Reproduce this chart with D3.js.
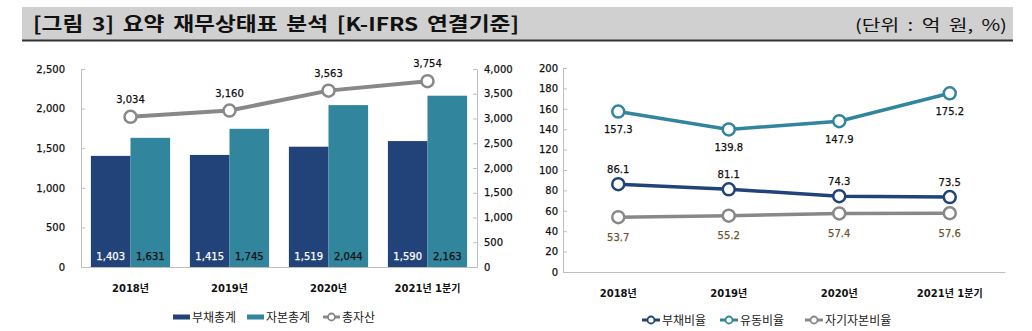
<!DOCTYPE html>
<html><head><meta charset="utf-8">
<script src="https://cdn.jsdelivr.net/npm/d3@7"></script>
<style>
html,body{margin:0;padding:0;background:#fff;}
svg{display:block;}
text{font-family:"DejaVu Sans","Noto Sans CJK KR",sans-serif;}
.kr{font-family:"Noto Sans CJK KR","DejaVu Sans",sans-serif;}
</style></head>
<body>
<svg id="c" width="1032" height="331"></svg>
<script>
// ---- data ----
const categories = ["2018년", "2019년", "2020년", "2021년 1분기"];
const debtTotal = [1403, 1415, 1519, 1590];      // 부채총계
const equityTotal = [1631, 1745, 2044, 2163];    // 자본총계
const totalAssets = [3034, 3160, 3563, 3754];    // 총자산
const debtRatio = [86.1, 81.1, 74.3, 73.5];       // 부채비율
const currentRatio = [157.3, 139.8, 147.9, 175.2];// 유동비율
const equityRatio = [53.7, 55.2, 57.4, 57.6];     // 자기자본비율
const leftTicks = [0, 500, 1000, 1500, 2000, 2500];
const rightTicks = [0, 500, 1000, 1500, 2000, 2500, 3000, 3500, 4000];
const ratioTicks = [0, 20, 40, 60, 80, 100, 120, 140, 160, 180, 200];
const titleText = "[그림 3] 요약 재무상태표 분석 [K-IFRS 연결기준]";
const unitText = "(단위 : 억 원, %)";
const legendLeft = ["부채총계", "자본총계", "총자산"];
const legendRight = ["부채비율", "유동비율", "자기자본비율"];

const NAVY = "#22427a", TEAL = "#31859c", GRAY = "#888888", AXIS = "#bfbfbf";
const fmt = d3.format(",");
const svg = d3.select("#c");

// ---- header ----
svg.append("rect").attr("x", 22).attr("y", 7).attr("width", 991).attr("height", 33).attr("fill", "#d0d0d0");
svg.append("rect").attr("x", 22).attr("y", 39.5).attr("width", 991).attr("height", 2).attr("fill", "#333");
svg.append("text").attr("class", "kr").attr("x", 33).attr("y", 31).attr("font-size", 19).attr("font-weight", "bold")
  .attr("fill", "#111").attr("word-spacing", 3).attr("textLength", 486).attr("lengthAdjust", "spacingAndGlyphs").text(titleText);
svg.append("text").attr("class", "kr").attr("x", 1007).attr("y", 31).attr("font-size", 16).attr("text-anchor", "end")
  .attr("fill", "#111").attr("word-spacing", 3).attr("textLength", 152).attr("lengthAdjust", "spacingAndGlyphs").text(unitText);

// ---- left chart ----
const L = {x0: 81, x1: 477, y0: 267, y1: 69};
const xL = d3.scaleBand().domain(categories).range([L.x0, L.x1]).paddingInner(0.2).paddingOuter(0.1);
const xLc = d3.scaleBand().domain(categories).range([L.x0, L.x1]);
const yL = d3.scaleLinear().domain([0, 2500]).range([L.y0, L.y1]);
const yR = d3.scaleLinear().domain([0, 4000]).range([L.y0, L.y1]);
const sub = d3.scaleBand().domain(["d", "e"]).range([0, xL.bandwidth()]);

function styleAxis(g) {
  g.select(".domain").attr("stroke", AXIS);
  g.selectAll(".tick line").attr("stroke", AXIS);
  g.selectAll(".tick text").attr("font-size", 10).attr("fill", "#111").attr("font-family", "DejaVu Sans")
    .attr("stroke", "#111").attr("stroke-width", 0.25);
}
svg.append("g").attr("transform", `translate(${L.x0},0)`)
  .call(d3.axisLeft(yL).tickValues(leftTicks).tickFormat(fmt).tickSizeInner(-4).tickSizeOuter(0).tickPadding(16)).call(styleAxis);
svg.append("g").attr("transform", `translate(${L.x1},0)`)
  .call(d3.axisRight(yR).tickValues(rightTicks).tickFormat(fmt).tickSizeInner(-4).tickSizeOuter(0).tickPadding(7)).call(styleAxis);
const gxL = svg.append("g").attr("transform", `translate(0,${L.y0})`)
  .call(d3.axisBottom(xLc).tickSize(0).tickPadding(18));
gxL.select(".domain").attr("stroke", AXIS);
gxL.selectAll(".tick text").attr("font-size", 10).attr("font-weight", "bold").attr("fill", "#111");

const groups = svg.append("g").selectAll("g").data(categories).join("g")
  .attr("transform", d => `translate(${xL(d)},0)`);
groups.append("rect").attr("x", sub("d")).attr("width", sub.bandwidth())
  .attr("y", (d, i) => yL(debtTotal[i])).attr("height", (d, i) => yL(0) - yL(debtTotal[i])).attr("fill", NAVY);
groups.append("rect").attr("x", sub("e")).attr("width", sub.bandwidth())
  .attr("y", (d, i) => yL(equityTotal[i])).attr("height", (d, i) => yL(0) - yL(equityTotal[i])).attr("fill", TEAL);
groups.append("text").attr("x", sub("d") + sub.bandwidth() / 2).attr("y", 260).attr("text-anchor", "middle")
  .attr("font-size", 10).attr("fill", "#fff").attr("stroke", "#fff").attr("stroke-width", 0.25).text((d, i) => fmt(debtTotal[i]));
groups.append("text").attr("x", sub("e") + sub.bandwidth() / 2).attr("y", 260).attr("text-anchor", "middle")
  .attr("font-size", 10).attr("fill", "#111").attr("stroke", "#111").attr("stroke-width", 0.25).text((d, i) => fmt(equityTotal[i]));

const cx = d => xLc(d) + xLc.bandwidth() / 2;
svg.append("path").datum(totalAssets).attr("fill", "none").attr("stroke", GRAY).attr("stroke-width", 4)
  .attr("d", d3.line().x((d, i) => cx(categories[i])).y(d => yR(d)));
svg.append("g").selectAll("circle").data(totalAssets).join("circle")
  .attr("cx", (d, i) => cx(categories[i])).attr("cy", d => yR(d)).attr("r", 6)
  .attr("fill", "#fff").attr("stroke", GRAY).attr("stroke-width", 2.5);
svg.append("g").selectAll("text").data(totalAssets).join("text")
  .attr("x", (d, i) => cx(categories[i])).attr("y", d => yR(d) - 14).attr("text-anchor", "middle")
  .attr("font-size", 10).attr("fill", "#111").attr("stroke", "#111").attr("stroke-width", 0.25).text(d => fmt(d));

// left legend
const lgL = svg.append("g");
lgL.append("rect").attr("x", 173).attr("y", 314.5).attr("width", 17).attr("height", 5).attr("fill", NAVY);
lgL.append("text").attr("class", "kr").attr("x", 192).attr("y", 321.5).attr("font-size", 12).attr("fill", "#222").text(legendLeft[0]);
lgL.append("rect").attr("x", 247).attr("y", 314.5).attr("width", 17).attr("height", 5).attr("fill", TEAL);
lgL.append("text").attr("class", "kr").attr("x", 266).attr("y", 321.5).attr("font-size", 12).attr("fill", "#222").text(legendLeft[1]);
lgL.append("line").attr("x1", 323).attr("x2", 340).attr("y1", 317).attr("y2", 317).attr("stroke", GRAY).attr("stroke-width", 3);
lgL.append("circle").attr("cx", 331.5).attr("cy", 317).attr("r", 3.5).attr("fill", "#fff").attr("stroke", GRAY).attr("stroke-width", 1.8);
lgL.append("text").attr("class", "kr").attr("x", 342).attr("y", 321.5).attr("font-size", 12).attr("fill", "#222").text(legendLeft[2]);

// ---- right chart ----
const R = {x0: 563, x1: 1005, y0: 272, y1: 68};
const xR = d3.scaleBand().domain(categories).range([R.x0, R.x1]);
const yP = d3.scaleLinear().domain([0, 200]).range([R.y0, R.y1]);
svg.append("g").attr("transform", `translate(${R.x0},0)`)
  .call(d3.axisLeft(yP).tickValues(ratioTicks).tickSizeInner(-4).tickSizeOuter(0).tickPadding(5)).call(styleAxis);
const gxR = svg.append("g").attr("transform", `translate(0,${R.y0})`)
  .call(d3.axisBottom(xR).tickSize(0).tickPadding(18));
gxR.select(".domain").attr("stroke", AXIS);
gxR.selectAll(".tick text").attr("font-size", 10).attr("font-weight", "bold").attr("fill", "#111");

const rx = d => xR(d) + xR.bandwidth() / 2;
const seriesR = [
  {vals: currentRatio, color: TEAL, dy: 18, lc: "#111"},
  {vals: debtRatio, color: NAVY, dy: -15, lc: "#111"},
  {vals: equityRatio, color: GRAY, dy: 20, lc: "#6b5535"}
];
seriesR.forEach(s => {
  svg.append("path").datum(s.vals).attr("fill", "none").attr("stroke", s.color).attr("stroke-width", 3.5)
    .attr("d", d3.line().x((d, i) => rx(categories[i])).y(d => yP(d)));
  svg.append("g").selectAll("circle").data(s.vals).join("circle")
    .attr("cx", (d, i) => rx(categories[i])).attr("cy", d => yP(d)).attr("r", 6)
    .attr("fill", "#fff").attr("stroke", s.color).attr("stroke-width", 2.5);
  svg.append("g").selectAll("text").data(s.vals).join("text")
    .attr("x", (d, i) => rx(categories[i])).attr("y", d => yP(d) + s.dy).attr("dy", "0.35em")
    .attr("text-anchor", "middle").attr("font-size", 10).attr("fill", s.lc).attr("stroke", s.lc).attr("stroke-width", 0.25)
    .text(d => d.toFixed(1));
});

// right legend
const lgR = svg.append("g");
const legItems = [
  {x: 642, tx: 662, color: NAVY, label: legendRight[0]},
  {x: 720, tx: 740, color: TEAL, label: legendRight[1]},
  {x: 805, tx: 825, color: GRAY, label: legendRight[2]}
];
legItems.forEach(it => {
  lgR.append("line").attr("x1", it.x).attr("x2", it.x + 18).attr("y1", 320).attr("y2", 320).attr("stroke", it.color).attr("stroke-width", 3);
  lgR.append("circle").attr("cx", it.x + 9).attr("cy", 320).attr("r", 3.5).attr("fill", "#fff").attr("stroke", it.color).attr("stroke-width", 1.8);
  lgR.append("text").attr("class", "kr").attr("x", it.tx).attr("y", 324.5).attr("font-size", 12).attr("fill", "#222").text(it.label);
});
</script>
</body></html>
